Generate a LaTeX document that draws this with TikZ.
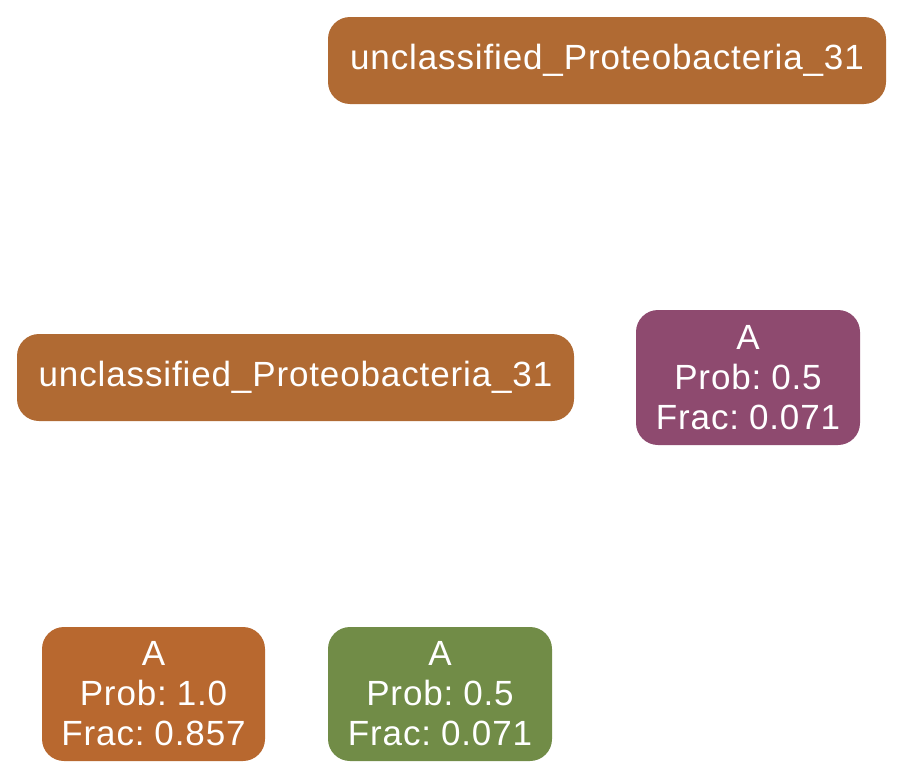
\documentclass[tikz,border=0pt]{standalone}
\usepackage{fontspec}
\setmainfont{Liberation Sans}[LetterSpace=2.5,WordSpace=0.6]
\definecolor{rust}{HTML}{B06A33}
\definecolor{rustb}{HTML}{B8682F}
\definecolor{plum}{HTML}{8E4A6F}
\definecolor{olive}{HTML}{718C47}
\begin{document}
\begin{tikzpicture}[x=1pt,y=-1pt,
  taxon/.style={rectangle, rounded corners=22pt, draw=none, text=white,
    align=center, inner sep=0pt,
    font=\fontsize{35}{40}\selectfont},
]
\useasboundingbox (0,0) rectangle (903,779);
\node[taxon, fill=rust, minimum width=558pt, minimum height=87pt] (top) at (607,60.5) {unclassified\_Proteobacteria\_31};
\node[taxon, fill=rust, minimum width=557pt, minimum height=87pt] (mid) at (295.5,377.5) {unclassified\_Proteobacteria\_31};
\node[taxon, fill=plum, minimum width=224pt, minimum height=135pt] (ap) at (748,377.5) {A\\Prob: 0.5\\Frac: 0.071};
\node[taxon, fill=rustb, minimum width=223pt, minimum height=134pt] (ar) at (153.5,694) {A\\Prob: 1.0\\Frac: 0.857};
\node[taxon, fill=olive, minimum width=224pt, minimum height=134pt] (ag) at (440,694) {A\\Prob: 0.5\\Frac: 0.071};
\end{tikzpicture}
\end{document}
